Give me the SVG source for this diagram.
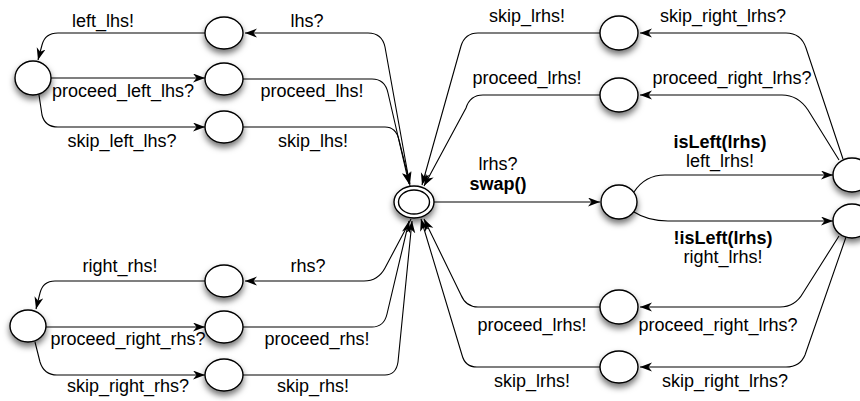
<svg xmlns="http://www.w3.org/2000/svg" width="860" height="401" viewBox="0 0 860 401">
<defs>
<filter id="sh" x="-50%" y="-50%" width="200%" height="220%">
<feDropShadow dx="0" dy="4" stdDeviation="3" flood-color="#000" flood-opacity="0.55"/>
</filter>
<marker id="arr" markerUnits="userSpaceOnUse" markerWidth="13" markerHeight="10" refX="12" refY="4.5" orient="auto">
<path d="M0,0 L12,4.5 L0,9 L3.5,4.5 z" fill="#000"/>
</marker>
<style>
.n{fill:#fff;stroke:#000;stroke-width:1.4;filter:url(#sh)}
.n2{fill:#fff;stroke:#000;stroke-width:1.4}
.e{fill:none;stroke:#000;stroke-width:1.1;marker-end:url(#arr)}
text{font-family:"Liberation Sans",Arial,Helvetica,sans-serif;font-size:18px;fill:#000;text-anchor:middle}
.b{font-weight:bold}
</style>
</defs>
<rect width="860" height="401" fill="#fff"/>
<g id="connectors">
<path class="e" d="M410,186 L385,47 Q382,33 368,33 L245,33"/>
<path class="e" d="M205,33 L58,33 Q45,33 42,45 L38,60"/>
<path class="e" d="M51,78 L205,78"/>
<path class="e" d="M39,95 L42,115 Q45,127 58,127 L205,127"/>
<path class="e" d="M243,79 L372,79 Q385,79 388,93 L409,184"/>
<path class="e" d="M243,127 L385,127 Q396,127 399,140 L410,184"/>
<path class="e" d="M600,33 L478,33 Q465,33 461,46 L422,185"/>
<path class="e" d="M600,95 L483,95 Q470,95 466,108 L424,186"/>
<path class="e" d="M843,159 L806,48 Q801,33 786,33 L640,33"/>
<path class="e" d="M839,160 L808,110 Q798,95 782,95 L640,95"/>
<path class="e" d="M434,202 L600,202"/>
<path class="e" d="M634,192 Q645,175 665,175 L833,175"/>
<path class="e" d="M634,212 Q648,221 668,221 L833,221"/>
<path class="e" d="M839,236 L803,293 Q795,307 780,307 L640,307"/>
<path class="e" d="M846,237 L805,355 Q800,367 786,367 L640,367"/>
<path class="e" d="M600,307 L478,307 Q466,307 461,295 L424,219"/>
<path class="e" d="M600,367 L477,367 Q465,367 462,355 L421,219"/>
<path class="e" d="M411,219 L385,268 Q378,281 364,281 L245,281"/>
<path class="e" d="M205,281 L55,281 Q43,281 40,293 L36,309"/>
<path class="e" d="M46,327 L205,327"/>
<path class="e" d="M35,342 L40,362 Q44,375 57,375 L205,375"/>
<path class="e" d="M243,327 L372,327 Q384,327 387,314 L409,221"/>
<path class="e" d="M243,375 L385,375 Q396,375 398,362 L412,221"/>
</g>
<g id="A1"><ellipse class="n" cx="224" cy="33" rx="19" ry="16"/></g>
<g id="A2"><ellipse class="n" cx="224" cy="79" rx="19" ry="16"/></g>
<g id="A3"><ellipse class="n" cx="224" cy="127" rx="19" ry="16"/></g>
<g id="L1"><ellipse class="n" cx="33" cy="78" rx="18" ry="17"/></g>
<g id="C1"><ellipse class="n" cx="224" cy="281" rx="19" ry="16"/></g>
<g id="C2"><ellipse class="n" cx="224" cy="327" rx="19" ry="16"/></g>
<g id="C3"><ellipse class="n" cx="224" cy="375" rx="19" ry="16"/></g>
<g id="L2"><ellipse class="n" cx="28" cy="326" rx="18" ry="16"/></g>
<g id="C0"><ellipse class="n" cx="414" cy="202" rx="20" ry="16"/><ellipse class="n2" cx="414" cy="202" rx="15.5" ry="12"/></g>
<g id="M"><ellipse class="n" cx="619" cy="202" rx="18" ry="17"/></g>
<g id="B1"><ellipse class="n" cx="619" cy="33" rx="19" ry="17"/></g>
<g id="B2"><ellipse class="n" cx="619" cy="95" rx="19" ry="17"/></g>
<g id="B3"><ellipse class="n" cx="619" cy="307" rx="19" ry="17"/></g>
<g id="B4"><ellipse class="n" cx="619" cy="367" rx="19" ry="16"/></g>
<g id="R1"><ellipse class="n" cx="852" cy="175" rx="19" ry="17"/></g>
<g id="R2"><ellipse class="n" cx="852" cy="221" rx="19" ry="17"/></g>
<g id="labels">
<text x="103" y="27">left_lhs!</text>
<text x="307" y="27">lhs?</text>
<text x="123" y="97">proceed_left_lhs?</text>
<text x="312" y="97">proceed_lhs!</text>
<text x="122" y="147">skip_left_lhs?</text>
<text x="313" y="147">skip_lhs!</text>
<text x="120" y="272">right_rhs!</text>
<text x="308" y="272">rhs?</text>
<text x="128" y="345">proceed_right_rhs?</text>
<text x="317" y="345">proceed_rhs!</text>
<text x="128" y="392">skip_right_rhs?</text>
<text x="313" y="392">skip_rhs!</text>
<text x="498" y="170">lrhs?</text>
<text class="b" x="498" y="190">swap()</text>
<text x="527" y="22">skip_lrhs!</text>
<text x="723" y="22">skip_right_lrhs?</text>
<text x="527" y="84">proceed_lrhs!</text>
<text x="732" y="84">proceed_right_lrhs?</text>
<text class="b" x="720" y="148">isLeft(lrhs)</text>
<text x="720" y="167">left_lrhs!</text>
<text class="b" x="723" y="244">!isLeft(lrhs)</text>
<text x="723" y="263">right_lrhs!</text>
<text x="532" y="331">proceed_lrhs!</text>
<text x="718" y="331">proceed_right_lrhs?</text>
<text x="532" y="387">skip_lrhs!</text>
<text x="725" y="387">skip_right_lrhs?</text>
</g>
</svg>
